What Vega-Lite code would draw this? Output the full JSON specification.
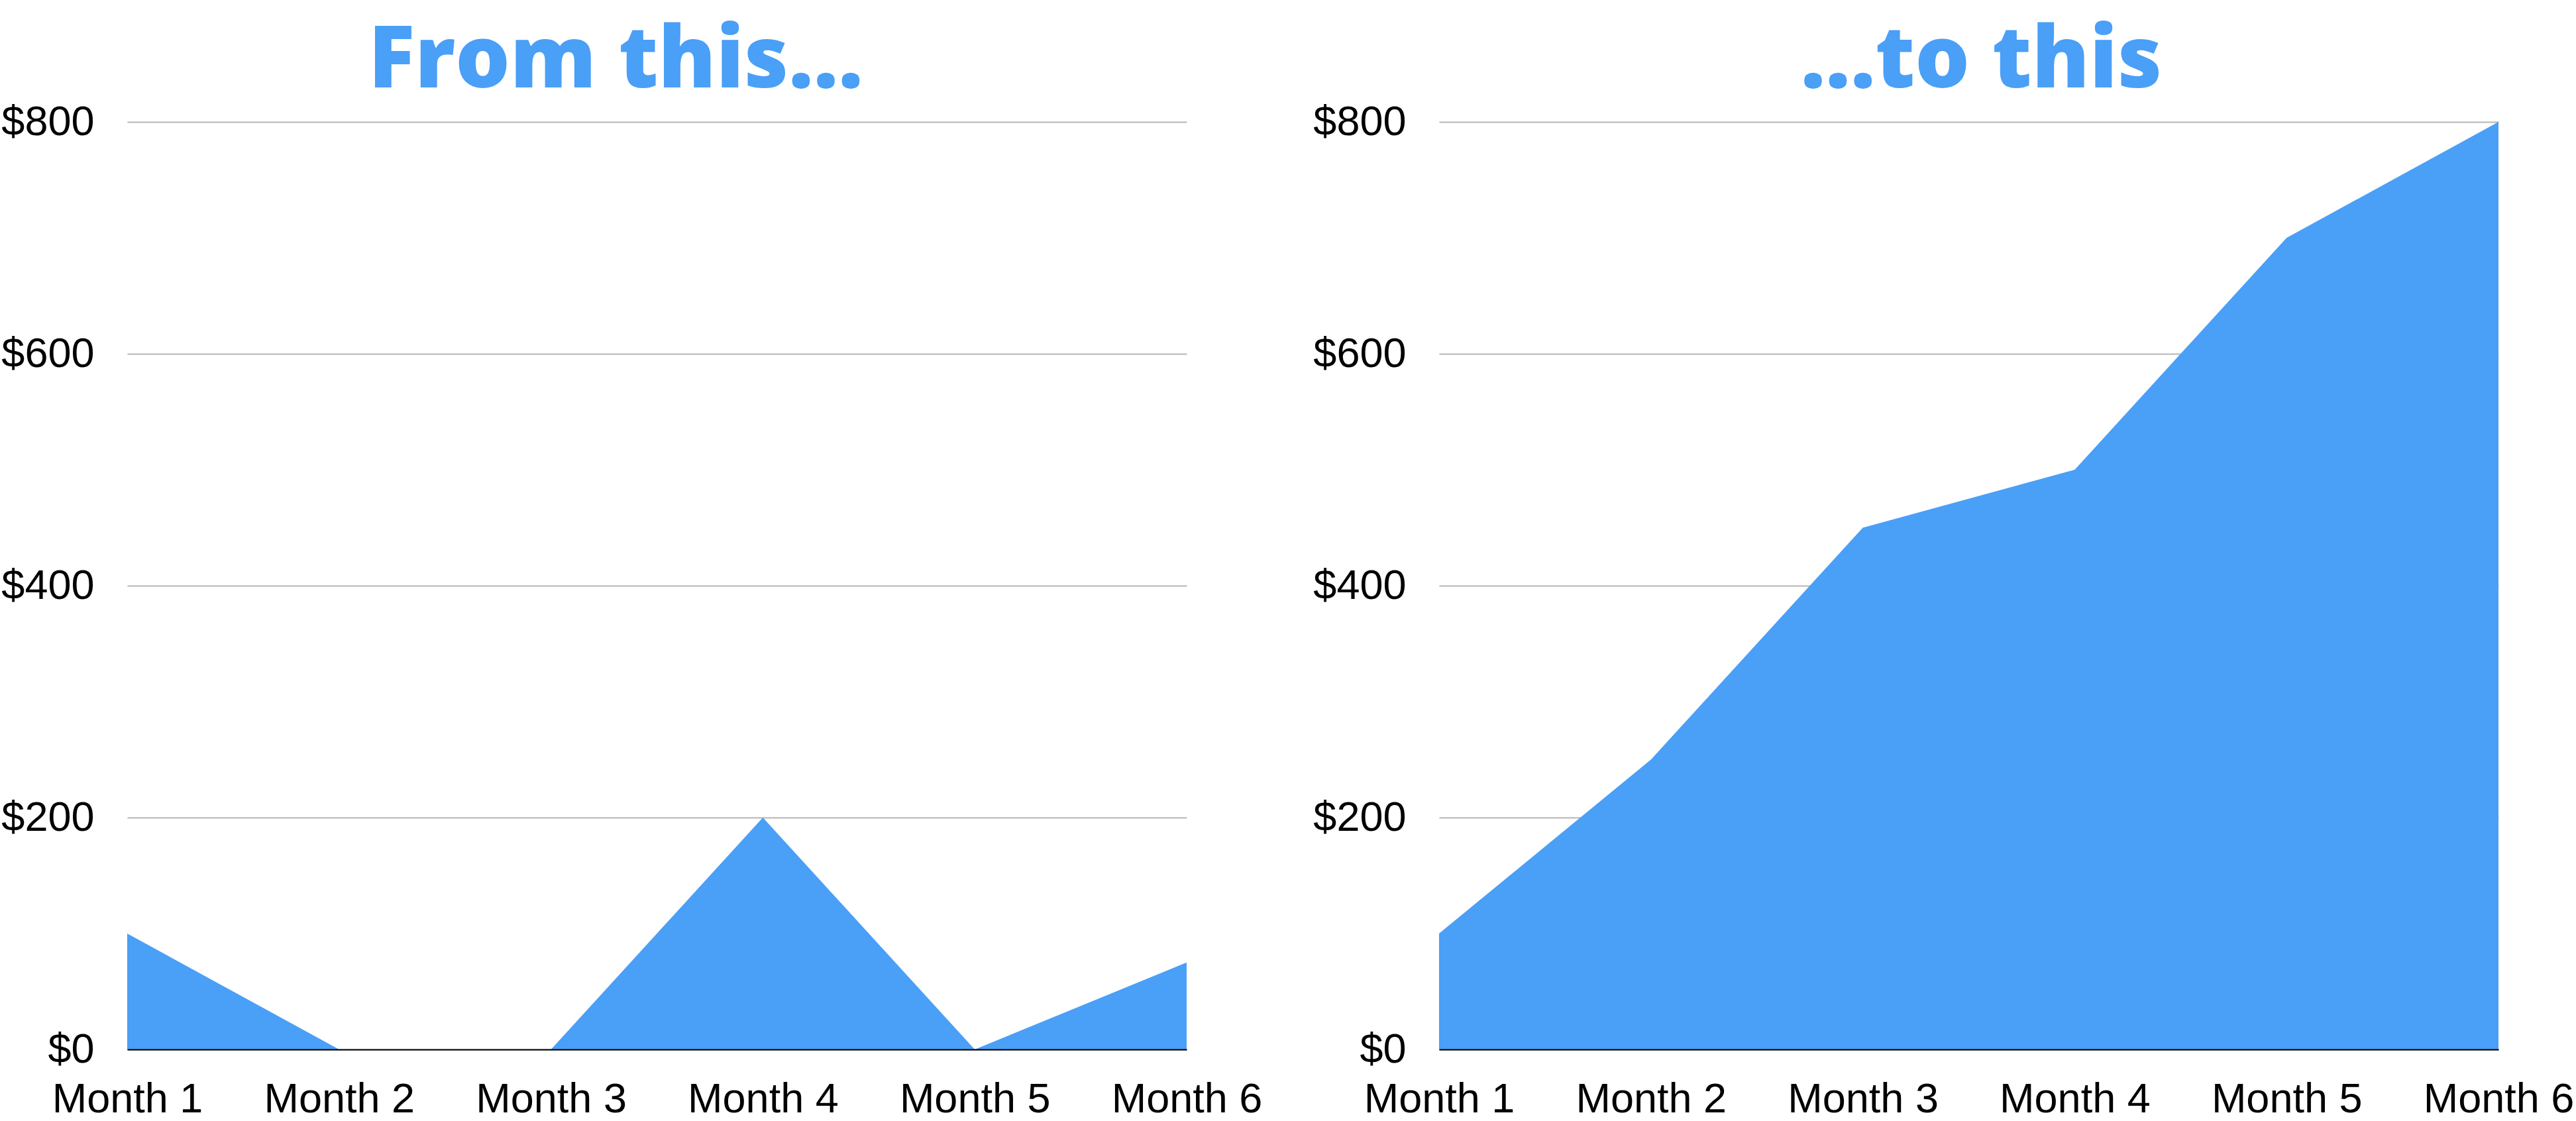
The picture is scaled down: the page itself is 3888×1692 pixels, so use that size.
{
  "$schema": "https://vega.github.io/schema/vega-lite/v6.json",
  "padding": {"left": 0, "top": 28, "right": 0, "bottom": 0},
  "background": "white",
  "config": {
    "view": {"stroke": null},
    "axis": {"labelFont": "Liberation Sans", "labelFontSize": 63, "labelColor": "#000000", "labelLimit": 500, "title": null, "ticks": false, "tickSize": 0},
    "title": {"font": "Open Sans", "fontSize": 130, "fontWeight": 800, "color": "#4a9ff7", "anchor": "middle", "frame": "group"},
    "concat": {"spacing": 75}
  },
  "hconcat": [
    {
      "width": 1599,
      "height": 1400,
      "title": {"text": "From this...", "dx": -62, "baseline": "alphabetic", "offset": -109},
      "data": {"values": [
        {"month": "Month 1", "value": 100},
        {"month": "Month 2", "value": 0},
        {"month": "Month 3", "value": 0},
        {"month": "Month 4", "value": 200},
        {"month": "Month 5", "value": 0},
        {"month": "Month 6", "value": 75}
      ]},
      "mark": {"type": "area", "color": "#4a9ff7", "opacity": 1},
      "encoding": {
        "x": {"field": "month", "type": "ordinal", "scale": {"type": "point", "padding": 0},
              "axis": {"labelAngle": 0, "labelPadding": 44, "labelBaseline": "top", "labelLimit": 500, "domainColor": "#000000", "domainWidth": 2, "grid": false, "zindex": 1}},
        "y": {"field": "value", "type": "quantitative", "scale": {"domain": [0, 800]},
              "axis": {"values": [0, 200, 400, 600, 800], "labelExpr": "'$' + datum.value", "labelFlush": false, "domain": false, "grid": true, "gridColor": "#b5b5b5", "gridWidth": 2, "labelPadding": 50, "minExtent": 192, "maxExtent": 192, "zindex": 0}}
      }
    },
    {
      "width": 1599,
      "height": 1400,
      "title": {"text": "...to this", "dx": 19, "baseline": "alphabetic", "offset": -109},
      "data": {"values": [
        {"month": "Month 1", "value": 100},
        {"month": "Month 2", "value": 250},
        {"month": "Month 3", "value": 450},
        {"month": "Month 4", "value": 500},
        {"month": "Month 5", "value": 700},
        {"month": "Month 6", "value": 800}
      ]},
      "mark": {"type": "area", "color": "#4a9ff7", "opacity": 1},
      "encoding": {
        "x": {"field": "month", "type": "ordinal", "scale": {"type": "point", "padding": 0},
              "axis": {"labelAngle": 0, "labelPadding": 44, "labelBaseline": "top", "labelLimit": 500, "domainColor": "#000000", "domainWidth": 2, "grid": false, "zindex": 1}},
        "y": {"field": "value", "type": "quantitative", "scale": {"domain": [0, 800]},
              "axis": {"values": [0, 200, 400, 600, 800], "labelExpr": "'$' + datum.value", "labelFlush": false, "domain": false, "grid": true, "gridColor": "#b5b5b5", "gridWidth": 2, "labelPadding": 50, "minExtent": 192, "maxExtent": 192, "zindex": 0}}
      }
    }
  ]
}
